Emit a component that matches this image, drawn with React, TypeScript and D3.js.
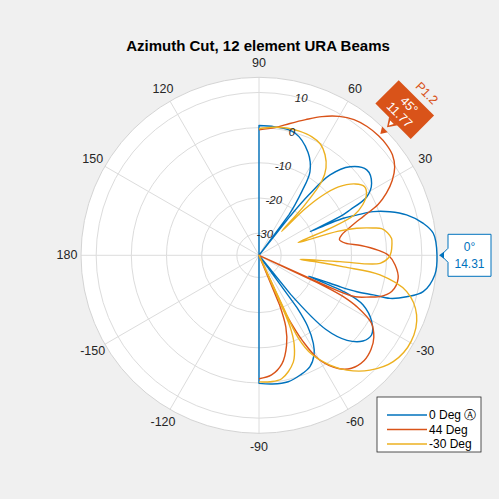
import React from 'react';
import * as d3 from 'd3';

// ---------- data ----------
const TITLE = 'Azimuth Cut, 12 element URA Beams';
const R_LIM: [number, number] = [-36.3, 14.31];
const R_TICKS = [-30, -20, -10, 0, 10];
const THETA_TICKS = [0, 30, 60, 90, 120, 150, 180, 210, 240, 270, 300, 330];
const THETA_LABELS = ['0', '30', '60', '90', '120', '150', '180', '-150', '-120', '-90', '-60', '-30'];
const SERIES_NAMES = ['0 Deg \u24B6', '44 Deg', '-30 Deg'];
const COLORS = ['#0072BD', '#D95319', '#EDB120'];

// [azimuth deg, dB]; null = deep null (below the radial limit)
type Pt = [number, number | null];

const beam0: Pt[] = [
  [-90, 0.1], [-84, 0.5], [-77, 0.6], [-71, -0.3], [-65.4, -1.5], [-61, -4], [-58.3, -6.9], [-55.5, -12], [-54, -18], [-52.5, null],
  [-51, -22], [-48, -8], [-44, -1.5], [-39.5, 2], [-35.3, 2.9], [-30.5, 0.9], [-25.5, -3.5], [-23.4, -9], [-22.8, -21],
  [-21.5, -14.6], [-21.2, -11.6], [-20.4, -6.6], [-19.1, -1.9], [-18.2, 2.9], [-15.7, 7.3], [-12.5, 11.5], [-6.3, 14.0], [0, 14.31],
  [7.2, 13.65], [11, 11.3], [15.3, 7.2], [18.4, 2.9], [20.9, -1.5], [22.4, -6.3], [23.7, -10.1], [24.3, -14.2], [24.8, -20.3],
  [25.5, -10.8], [26.5, -7.4], [28.5, -1.4], [32.6, 1.7], [38.4, 2.8], [44.2, -0.2], [48.5, -5.8], [50.5, -14], [51.5, -22], [52.5, null],
  [53.5, -22], [54.6, -18.6], [56.1, -14.5], [58.6, -8.5], [64.5, -3.9], [73.8, 0.0], [83, 0.5], [90, 0.6],
];

const beam44: Pt[] = [
  [-90, -1.2], [-84, -2.1], [-78, -4.8], [-73, -9.5], [-69.5, -14.5], [-67.5, -21], [-66, null],
  [-65.5, -18], [-63, -9], [-60, -2], [-55, 3], [-50.7, 5.2], [-45, 6.0], [-40, 5.3], [-35.5, 3.8], [-31.1, 1.0], [-27.7, -4.9], [-26, -10], [-25, -18], [-24.6, null],
  [-24.3, -14], [-23.3, -6.5], [-20.5, -2.5], [-18.9, 0], [-15.3, 2.8], [-9.4, 3.8], [-4.1, 2.5], [0, 0.5], [2.5, -2.5], [5.5, -7.2], [8, -11.5], [11, -13],
  [14, -12], [16.1, -10.3], [18.6, -7.5], [20.5, -4.5], [23.1, 0.5], [26, 4], [29.4, 7.2], [33, 9.7], [37, 11.2], [41, 11.7], [45, 11.77],
  [50, 11.5], [55, 10.8], [60, 9.3], [65.6, 7], [71, 4.5], [76.8, 2.2], [82.8, 0.3], [90, -0.6],
];

const beamM30: Pt[] = [
  [-90, -0.3], [-85, -0.2], [-79.6, -0.6], [-72.2, -4.4], [-68.5, -9], [-66.8, -13], [-66, -19], [-65.5, null],
  [-65, -18], [-64.5, -10], [-62, -4.5], [-57.1, 0.86], [-52.6, 4.8], [-46, 9.1], [-38.4, 12.4], [-29.5, 13.4], [-20.7, 11.6], [-13.8, 6.95], [-9.2, -1.44], [-7.8, -12], [-6.5, -20], [-5.6, -24.6],
  [-4.5, -13.2], [-3.8, -1.8], [-1, 0.6], [1.5, 1.3], [4.4, 1.6], [7.2, 1.7], [10, 0.8], [12.3, -0.6], [13.5, -3], [15.5, -7.5], [17, -13], [18, -24.6],
  [20.8, -14.7], [22.9, -7], [26, -3.5], [29.5, -1.2], [33, -0.5], [36.5, -2.2], [40.7, -6.5], [43.5, -12], [45.3, -18], [46.6, -27],
  [47.7, -17], [49.7, -8.7], [52.5, -5], [56.7, -2.1], [61, -0.2], [66.1, 0.6], [72, 0.8], [77.7, 0.75], [84, 0.3], [90, -0.3],
];

const SERIES = [beam0, beam44, beamM30];

const TIP_BLUE = { angle: 0, value: 14.31 };
const TIP_RED = { angle: 45, value: 11.77, name: 'P1.2' };

// ---------- layout ----------
const W = 499;
const H = 499;
const CX = 259;
const CY = 255.3;
const RAD = 178;
const FONT = 'Liberation Sans, Arial, Helvetica, sans-serif';
const TXT = '#262626';

const rScale = d3.scaleLinear().domain(R_LIM).range([0, RAD]).clamp(true);
const pos = (deg: number, v: number | null): [number, number] => {
  const r = v === null ? 0 : rScale(v);
  const a = (deg * Math.PI) / 180;
  return [CX + r * Math.cos(a), CY - r * Math.sin(a)];
};

const lineGen = d3.line<[number, number]>().curve(d3.curveCatmullRom.alpha(0.5));

function buildPath(data: Pt[], centerEnds: boolean): string {
  const segs: [number, number][][] = [];
  let cur: [number, number][] = [];
  data.forEach(([a, v]) => {
    if (v === null) {
      if (cur.length) segs.push(cur);
      cur = [];
    } else cur.push(pos(a, v));
  });
  if (cur.length) segs.push(cur);
  let d = centerEnds ? `M${CX},${CY}` : '';
  segs.forEach((s, i) => {
    let p = lineGen(s) || '';
    if (d) p = 'L' + p.slice(1);
    if (i > 0) d += `L${CX},${CY}`;
    d += p;
  });
  if (centerEnds) d += `L${CX},${CY}`;
  return d;
}

export default function App() {
  const labelR = 192;
  const bp = pos(TIP_BLUE.angle, TIP_BLUE.value);
  const rp = pos(TIP_RED.angle, TIP_RED.value);
  const ra = (TIP_RED.angle * Math.PI) / 180;
  const rc: [number, number] = [rp[0] + 37 * Math.cos(ra), rp[1] - 37 * Math.sin(ra)];
  const rot = 90 - TIP_RED.angle;

  const bx = bp[0] + 11;
  const by = bp[1] - 21;
  const tipPath = `M${bx},${by}H${bx + 43}V${by + 42}H${bx}V${bp[1] + 7}L${bp[0] + 4},${bp[1]}L${bx},${bp[1] - 7}Z`;

  return (
    <div style={{ position: 'fixed', left: 0, top: 0, width: W, height: H }}>
      <svg width={W} height={H} style={{ display: 'block' }} fontFamily={FONT}>
        <rect x={0} y={0} width={W} height={H} fill="#f0f0f0" />
        <circle cx={CX} cy={CY} r={RAD} fill="#ffffff" />
        {/* grid */}
        {R_TICKS.map((t) => (
          <circle key={t} cx={CX} cy={CY} r={rScale(t)} fill="none" stroke="#dcdcdc" strokeWidth={1} />
        ))}
        {THETA_TICKS.map((t) => {
          const p = pos(t, R_LIM[1]);
          return <line key={t} x1={CX} y1={CY} x2={p[0]} y2={p[1]} stroke="#dcdcdc" strokeWidth={1} />;
        })}
        <circle cx={CX} cy={CY} r={RAD} fill="none" stroke="#d4d4d4" strokeWidth={1} />

        {/* angle labels */}
        {THETA_TICKS.map((t, i) => {
          const a = (t * Math.PI) / 180;
          return (
            <text key={t} x={CX + labelR * Math.cos(a)} y={CY - labelR * Math.sin(a)} fontSize={12.5} fill={TXT}
              textAnchor="middle" dominantBaseline="central">{THETA_LABELS[i]}</text>
          );
        })}

        {/* series */}
        {SERIES.map((s, i) => (
          <path key={i} d={buildPath(s, i === 0)} fill="none" stroke={COLORS[i]} strokeWidth={1.4}
            strokeLinejoin="round" />
        ))}

        {/* radial tick labels */}
        {R_TICKS.map((t) => {
          const a = (75 * Math.PI) / 180;
          const r = rScale(t);
          return (
            <text key={t} x={CX + r * Math.cos(a)} y={CY - r * Math.sin(a)} fontSize={11.5} fontStyle="italic"
              fill={TXT} textAnchor="middle" dominantBaseline="central">{t}</text>
          );
        })}

        {/* blue data tip */}
        <path d={tipPath} fill="#ffffff" stroke={COLORS[0]} strokeWidth={1} />
        <polygon points={`${bp[0] + 2},${bp[1]} ${bp[0] + 7},${bp[1] - 3.5} ${bp[0] + 7},${bp[1] + 3.5}`} fill={COLORS[0]} />
        <text x={bx + 21.5} y={bp[1] - 8} fontSize={12} fill={COLORS[0]} textAnchor="middle" dominantBaseline="central">{`${TIP_BLUE.angle}°`}</text>
        <text x={bx + 21.5} y={bp[1] + 9} fontSize={12} fill={COLORS[0]} textAnchor="middle" dominantBaseline="central">{TIP_BLUE.value.toFixed(2)}</text>

        {/* red data tip */}
        <g transform={`translate(${rc[0]},${rc[1]}) rotate(${rot})`}>
          <rect x={-25} y={-16.5} width={50} height={33} fill={COLORS[1]} />
          <polygon points="-6,16 6,16 0,25" fill={COLORS[1]} />
          <polygon points="-2.5,18 2.5,18 0,22.5" fill="#ffffff" />
          <polygon points="-4,28 4,28 0,34.5" fill={COLORS[1]} />
          <text x={0} y={-6} fontSize={12.5} fill="#ffffff" textAnchor="middle" dominantBaseline="central">{`${TIP_RED.angle}°`}</text>
          <text x={0} y={7.5} fontSize={12.5} fill="#ffffff" textAnchor="middle" dominantBaseline="central">{TIP_RED.value.toFixed(2)}</text>
          <text x={4} y={-27} fontSize={12.5} fill={COLORS[1]} textAnchor="middle" dominantBaseline="central">{TIP_RED.name}</text>
        </g>

        {/* legend */}
        <rect x={377} y={397} width={104} height={55} fill="#ffffff" stroke={TXT} strokeWidth={0.8} />
        {SERIES_NAMES.map((n, i) => {
          const y = 415 + i * 14.5;
          return (
            <g key={n}>
              <line x1={387} x2={427} y1={y} y2={y} stroke={COLORS[i]} strokeWidth={1.4} />
              <text x={429} y={y} fontSize={12} fill="#000" dominantBaseline="central">{n}</text>
            </g>
          );
        })}

        {/* title */}
        <text x={258} y={45} fontSize={15} fontWeight="bold" fill="#000" textAnchor="middle" dominantBaseline="central">{TITLE}</text>
      </svg>
    </div>
  );
}
